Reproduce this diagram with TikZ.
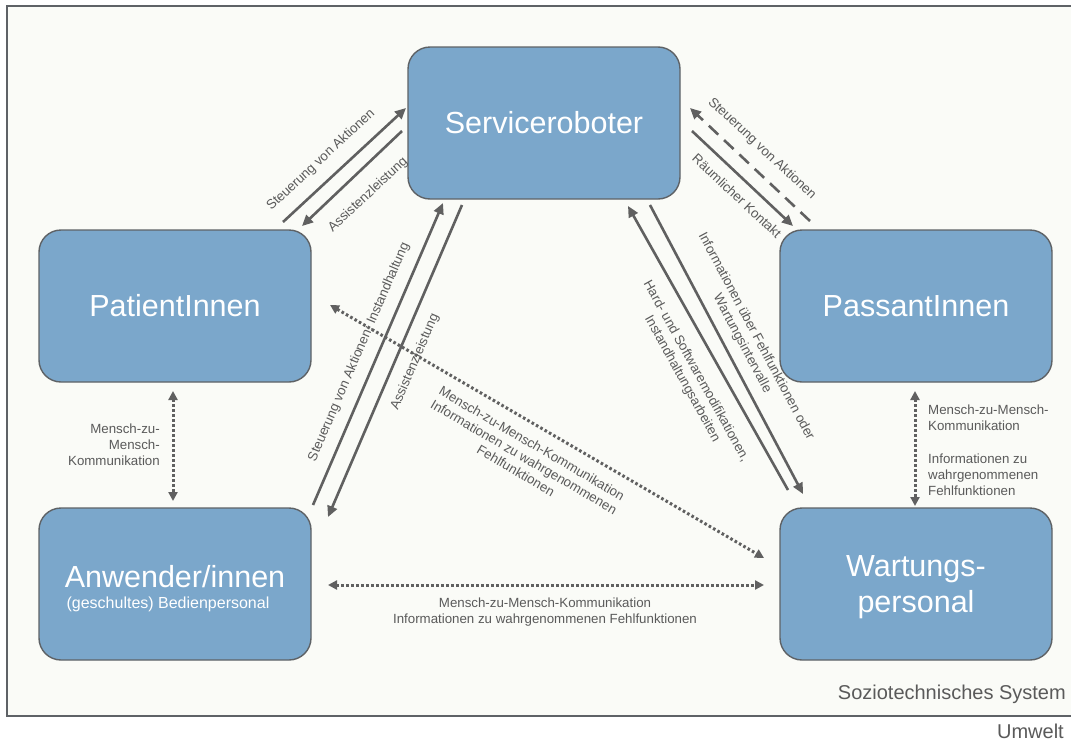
\documentclass[tikz,border=0pt]{standalone}
\usepackage{fontspec}
\setmainfont{Liberation Sans}
\usetikzlibrary{arrows.meta}
\definecolor{boxfill}{HTML}{7BA7CB}
\definecolor{boxline}{HTML}{5E6266}
\definecolor{arr}{HTML}{606060}
\definecolor{lbl}{HTML}{5A5A5A}
\definecolor{bg}{HTML}{FAFBF7}
\tikzset{
  actor/.style={draw=boxline, line width=1.4pt, fill=boxfill, rounded corners=22pt,
    minimum width=272pt, minimum height=152pt, text=white, align=center, inner sep=0pt,
    font=\fontsize{30.5}{36}\selectfont},
  title/.style={text=white, align=center, inner sep=0pt, font=\fontsize{30.5}{36}\selectfont},
  flow/.style={draw=arr, line width=2.6pt, -{Triangle[length=11pt,width=10pt]}},
  dashflow/.style={flow, dash pattern=on 13pt off 8pt},
  talk/.style={draw=arr, line width=3pt, dash pattern=on 2.6pt off 2.4pt,
    {Triangle[length=9pt,width=9pt]}-{Triangle[length=9pt,width=9pt]}},
  lab/.style={text=lbl, font=\fontsize{13.3}{15.8}\selectfont, inner sep=0pt, align=center},
  big/.style={text=lbl, font=\fontsize{20}{23}\selectfont, inner sep=0pt}
}
\begin{document}
\begin{tikzpicture}[x=1pt,y=-1pt]
\useasboundingbox (0,0) rectangle (1071,742);
\fill[white] (0,0) rectangle (1071,742);
\fill[bg] (7,6) rectangle (1075,716);
\draw[boxline, line width=1.6pt] (1075,6) -- (7,6) -- (7,716) -- (1075,716);

% nodes
\node[actor] (srv) at (544,123) {Serviceroboter};
\node[actor] (pat) at (175,306) {PatientInnen};
\node[actor] (pas) at (916,306) {PassantInnen};
\node[actor] (anw) at (175,584) {};
\node[title] (anwt) at (175,577) {Anwender/innen};
\node[text=white, font=\fontsize{16}{19}\selectfont, inner sep=0pt] (anws) at (168,604) {(geschultes) Bedienpersonal};
\node[actor] (war) at (916,584) {};
\node[title] (wart) at (916,587) {Wartungs-\\personal};

% endpoints
\coordinate (a1s) at (283,222); \coordinate (a1e) at (406,108);
\coordinate (a2s) at (402,131); \coordinate (a2e) at (302,226);
\coordinate (a3s) at (810,221); \coordinate (a3e) at (690,108);
\coordinate (a4s) at (692,131); \coordinate (a4e) at (793,226);
\coordinate (a5s) at (313,505); \coordinate (a5e) at (443,203);
\coordinate (a6s) at (462,205); \coordinate (a6e) at (328,517);
\coordinate (a7s) at (788,490); \coordinate (a7e) at (628,206);
\coordinate (a8s) at (650,205); \coordinate (a8e) at (803,494);
\coordinate (d1s) at (330,305); \coordinate (d1e) at (764,558);
\coordinate (d2s) at (173,391); \coordinate (d2e) at (173,501);
\coordinate (d3s) at (915,391); \coordinate (d3e) at (915,506);
\coordinate (d4s) at (328,585); \coordinate (d4e) at (764,585);

% Patient <-> Service
\draw[flow] (a1s) -- (a1e);
\draw[flow] (a2s) -- (a2e);
\node[lab, rotate=43] (l1) at (321,160) {Steuerung von Aktionen};
\node[lab, rotate=43] (l2) at (368,195) {Assistenzleistung};

% Passant <-> Service
\draw[dashflow] (a3s) -- (a3e);
\draw[flow] (a4s) -- (a4e);
\node[lab, rotate=-43] (l3) at (762,149) {Steuerung von Aktionen};
\node[lab, rotate=-43] (l4) at (737,196) {Räumlicher Kontakt};

% Anwender <-> Service
\draw[flow] (a5s) -- (a5e);
\draw[flow] (a6s) -- (a6e);
\node[lab, rotate=66.7] (l5) at (359,352) {Steuerung von Aktionen; Instandhaltung};
\node[lab, rotate=66.7] (l6) at (415,362) {Assistenzleistung};

% Wartung <-> Service
\draw[flow] (a7s) -- (a7e);
\draw[flow] (a8s) -- (a8e);
\node[lab, rotate=-62] (l7) at (749,340) {Informationen über Fehlfunktionen oder\\Wartungsintervalle};
\node[lab, rotate=-61] (l8) at (689,375) {Hard- und Softwaremodifikationen,\\Instandhaltungsarbeiten};

% human communication
\draw[talk] (d1s) -- (d1e);
\node[lab, rotate=-30.3] (l9) at (524,457) {Mensch-zu-Mensch-Kommunikation\\Informationen zu wahrgenommenen\\Fehlfunktionen};

\draw[talk] (d2s) -- (d2e);
\node[lab, align=right, anchor=east] (l10) at (160,445) {Mensch-zu-\\Mensch-\\Kommunikation};

\draw[talk] (d3s) -- (d3e);
\node[lab, align=left, anchor=north west] (l11) at (928,405) {Mensch-zu-Mensch-\\Kommunikation\\[17pt]Informationen zu\\wahrgenommenen\\Fehlfunktionen};

\draw[talk] (d4s) -- (d4e);
\node[lab] (l12) at (545,612) {Mensch-zu-Mensch-Kommunikation\\Informationen zu wahrgenommenen Fehlfunktionen};

\node[big, anchor=east] (sys) at (1066,694) {Soziotechnisches System};
\node[big, anchor=east] (umw) at (1064,731) {Umwelt};
\end{tikzpicture}
\end{document}
